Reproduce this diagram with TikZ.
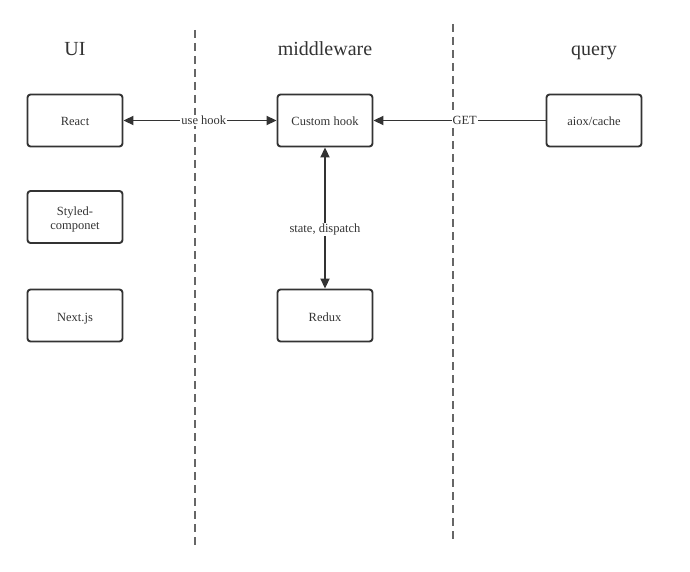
\documentclass[tikz,border=0pt]{standalone}
\usepackage{fontspec}
\setmainfont{Liberation Serif}
\usetikzlibrary{arrows.meta}
\begin{document}
\begin{tikzpicture}[x=1pt,y=-1pt,
  box/.style={draw=black!80, line width=1.9pt, rounded corners=3pt, minimum width=95pt, minimum height=52pt, align=center, font=\fontsize{12.5}{13.5}\selectfont, text=black!80, fill=white, text height=12pt, text depth=1pt},
  header/.style={font=\fontsize{20}{24}\selectfont, text=black!80, anchor=base},
  divider/.style={draw=black!60, line width=2pt, dash pattern=on 8pt off 5pt},
  conn/.style={draw=black!80, line width=1.9pt},
  tipend/.style={-{Triangle[length=10pt,width=9pt]}},
  tipboth/.style={{Triangle[length=10pt,width=9pt]}-{Triangle[length=10pt,width=9pt]}},
  lbl/.style={fill=white, inner sep=1pt, font=\fontsize{12.5}{15}\selectfont, text=black!80}]
\useasboundingbox (0,0) rectangle (690,572);
\coordinate (d1t) at (195,30);
\coordinate (d1b) at (195,545);
\coordinate (d2t) at (453,24);
\coordinate (d2b) at (453,540);
\draw[divider] (d1t) -- (d1b);
\draw[divider] (d2t) -- (d2b);
\node[header] (hUI) at (75,56) {UI};
\node[header] (hMid) at (325,56) {middleware};
\node[header] (hQ) at (594,56) {query};
\node[box] (react) at (75,120.5) {React};
\node[box] (hook) at (325,120.5) {Custom hook};
\node[box] (cache) at (594,120.5) {aiox/cache};
\node[box, text height=25.5pt] (styled) at (75,217) {Styled-\\componet};
\node[box] (next) at (75,315.5) {Next.js};
\node[box] (redux) at (325,315.5) {Redux};
\draw[conn, tipboth] (react) -- node[lbl, pos=0.525] {use hook} (hook);
\draw[conn, tipend] (cache) -- node[lbl, pos=0.47] {GET} (hook);
\draw[conn, tipboth] (hook) -- node[lbl, pos=0.58] {state, dispatch} (redux);
\end{tikzpicture}
\end{document}
